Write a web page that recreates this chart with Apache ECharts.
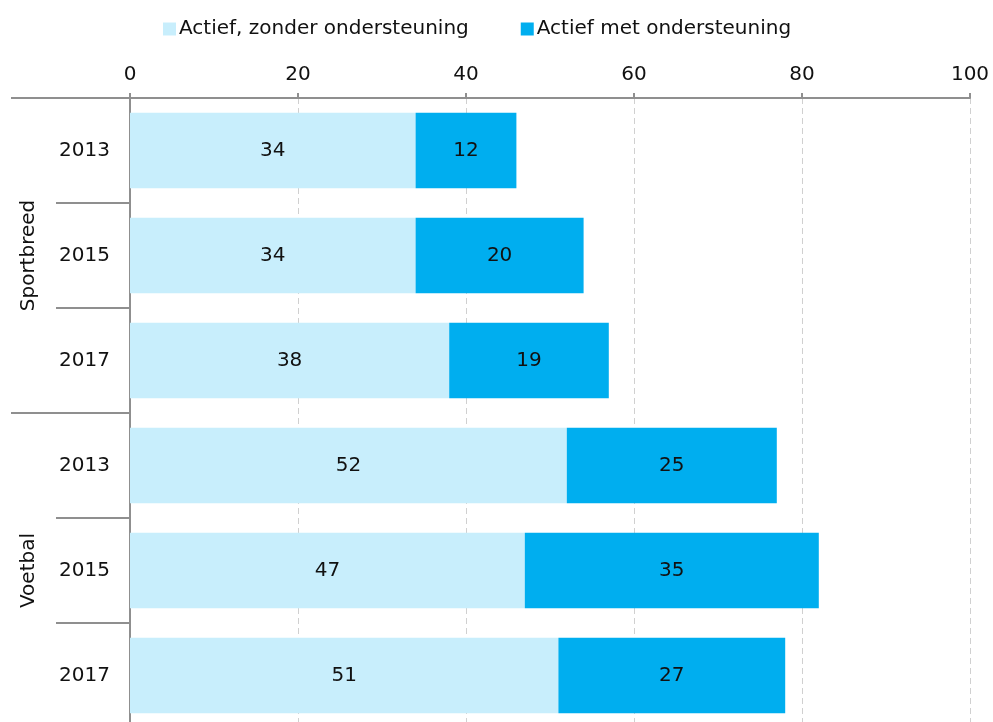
<!DOCTYPE html>
<html><head><meta charset="utf-8">
<script src="https://cdn.jsdelivr.net/npm/echarts@6/dist/echarts.min.js"></script>
<style>html,body{margin:0;padding:0;background:#fff}#c{width:993px;height:722px}</style>
</head><body><div id="c"></div>
<script>
const years = ['2013','2015','2017','2013','2015','2017'];
const groups = ['Sportbreed','Voetbal'];
const seriesNames = ['Actief, zonder ondersteuning','Actief met ondersteuning'];
const zonder = [34,34,38,52,47,51];
const met = [12,20,19,25,35,27];
const xTicks = [0,20,40,60,80,100];

const FONT = 'DejaVu Sans';
const FS = 20;
const axisGray = '#8f8f8f';
const chart = echarts.init(document.getElementById('c'));
chart.setOption({
  animation:false,
  textStyle:{fontFamily:FONT},
  legend:{top:14,left:158,itemWidth:13,itemHeight:13,itemGap:52,icon:'rect',
    textStyle:{fontFamily:FONT,fontSize:FS,color:'#111',padding:[0,0,0,-2]},data:seriesNames},
  grid:{left:130,right:23,top:98,height:630,outerBoundsMode:'none',containLabel:false},
  xAxis:{type:'value',position:'top',min:xTicks[0],max:xTicks[xTicks.length-1],interval:20,
    axisLine:{show:true,lineStyle:{color:axisGray,width:2}},
    axisTick:{show:true,length:5,lineStyle:{color:axisGray,width:2}},
    axisLabel:{fontFamily:FONT,fontSize:FS,color:'#111',margin:13},
    splitLine:{show:true,lineStyle:{type:[6,4],color:'#d0d0d0',width:1}}},
  yAxis:[{type:'category',data:years,inverse:true,
    axisLine:{show:true,lineStyle:{color:axisGray,width:2}},
    axisTick:{show:true,length:74,lineStyle:{color:axisGray,width:2}},
    axisLabel:{fontFamily:FONT,fontSize:FS,color:'#111',margin:20}},
   {type:'category',data:groups,inverse:true,position:'left',
    axisLine:{show:false},
    axisTick:{show:true,length:119,lineStyle:{color:axisGray,width:2}},
    axisLabel:{fontFamily:FONT,fontSize:FS,color:'#111',rotate:90,margin:91}}],
  series:[
    {name:seriesNames[0],type:'bar',stack:'a',data:zonder,barWidth:'72%',
     itemStyle:{color:'#c8eefc'},
     label:{show:true,position:'inside',fontFamily:FONT,fontSize:FS,color:'#111'}},
    {name:seriesNames[1],type:'bar',stack:'a',data:met,barWidth:'72%',
     itemStyle:{color:'#00aeef'},
     label:{show:true,position:'inside',fontFamily:FONT,fontSize:FS,color:'#111'}}
  ]
});
</script></body></html>
